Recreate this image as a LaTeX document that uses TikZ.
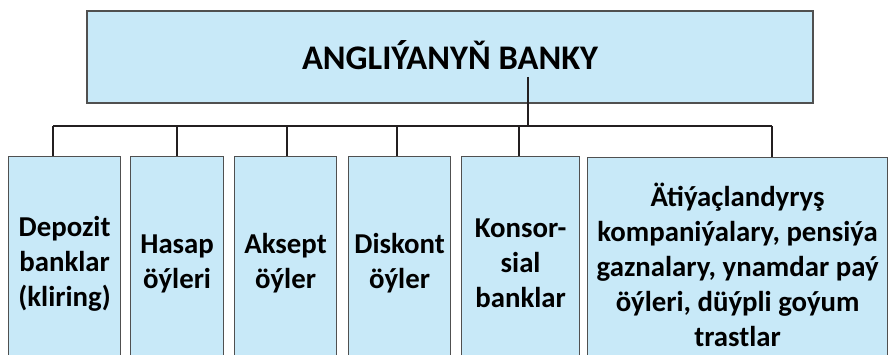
\documentclass[tikz,border=0pt]{standalone}
\usepackage{fontspec}
\setmainfont{Carlito}
\definecolor{boxfill}{RGB}{200,233,248}
\definecolor{boxline}{RGB}{80,80,80}
\definecolor{conn}{RGB}{35,31,32}
\tikzset{
  bankbox/.style={draw=boxline, line width=1.2pt, fill=boxfill, anchor=north west,
    inner sep=0pt, align=center, font=\fontsize{28.8}{35}\selectfont\bfseries},
  titlebox/.style={draw=boxline, line width=1.2pt, fill=boxfill, inner sep=0pt,
    font=\fontsize{34.5}{40}\selectfont\bfseries},
  link/.style={draw=conn, line width=2pt}
}
\begin{document}
\begin{tikzpicture}[x=1pt,y=-1pt]
\useasboundingbox (0,0) rectangle (888,355);
\clip (0,0) rectangle (888,355);
\node[titlebox, minimum width=726pt, minimum height=92pt] (top) at (450,57) {};
\node[font=\fontsize{34.5}{40}\selectfont\bfseries, anchor=base, inner sep=0pt] (title) at (450,70) {ANGLIÝANYŇ BANKY};
\node[bankbox, minimum width=112pt, minimum height=214pt] (b1) at (8,156) {Depozit\\banklar\\(kliring)};
\node[bankbox, minimum width=93pt, minimum height=214pt] (b2) at (130,156) {Hasap\\öýleri};
\node[bankbox, minimum width=102pt, minimum height=214pt] (b3) at (234,156) {Aksept\\öýler};
\node[bankbox, minimum width=102pt, minimum height=214pt] (b4) at (348,156) {Diskont\\öýler};
\node[bankbox, minimum width=118pt, minimum height=214pt] (b5) at (461,156) {Konsor-\\sial\\banklar};
\node[bankbox, minimum width=300pt, minimum height=214pt] (b6) at (587,157) {Ätiýaçlandyryş\\kompaniýalary, pensiýa\\gaznalary, ynamdar paý\\öýleri, düýpli goýum\\trastlar};
\coordinate (src) at (528,77);
\coordinate (hub) at (528,126);
\coordinate (j1) at (53,126);
\coordinate (j2) at (177,126);
\coordinate (j3) at (287,126);
\coordinate (j4) at (397,126);
\coordinate (j5) at (519,126);
\coordinate (j6) at (772,126);
\draw[link] (src) -- (hub);
\draw[link] (j1) -- (j6);
\draw[link] (j1) -- (j1 |- b1.north);
\draw[link] (j2) -- (j2 |- b2.north);
\draw[link] (j3) -- (j3 |- b3.north);
\draw[link] (j4) -- (j4 |- b4.north);
\draw[link] (j5) -- (j5 |- b5.north);
\draw[link] (j6) -- (j6 |- b6.north);
\end{tikzpicture}
\end{document}
